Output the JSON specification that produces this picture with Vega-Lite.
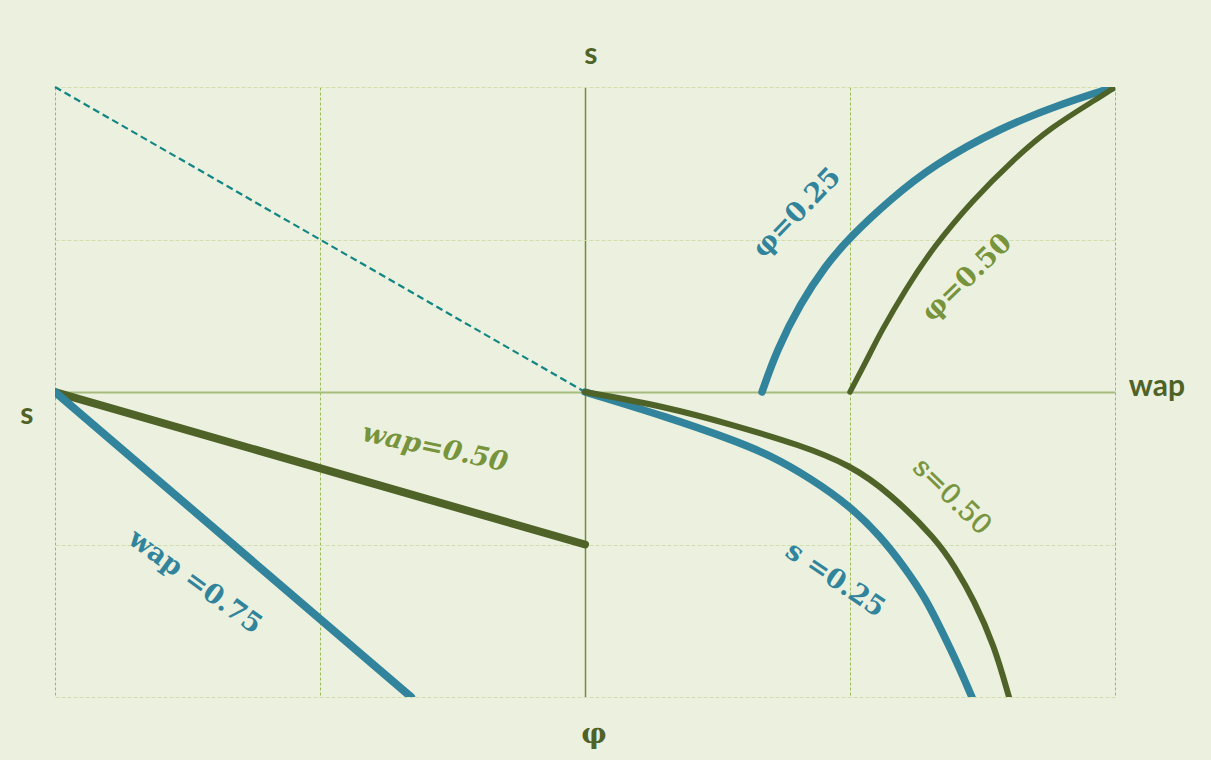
{
  "$schema": "https://vega.github.io/schema/vega-lite/v6.json",
  "width": 1060,
  "height": 610,
  "autosize": {"type": "none"},
  "padding": {"left": 55, "top": 87, "right": 96, "bottom": 63},
  "background": "#ebf1de",
  "config": {
    "view": {"stroke": null, "fill": "#ebf1de"}
  },
  "datasets": {
    "curves": [
      {"curve": "guide", "x": -1, "y": 1},
      {"curve": "guide", "x": 0, "y": 0},

      {"curve": "wap=0.50", "x": -1, "y": 0},
      {"curve": "wap=0.50", "x": 0, "y": -0.5},

      {"curve": "wap=0.75", "x": -1, "y": 0},
      {"curve": "wap=0.75", "x": -0.328, "y": -1},

      {"curve": "φ=0.25", "x": 0.334, "y": 0},
      {"curve": "φ=0.25", "x": 0.362, "y": 0.138},
      {"curve": "φ=0.25", "x": 0.406, "y": 0.289},
      {"curve": "φ=0.25", "x": 0.453, "y": 0.413},
      {"curve": "φ=0.25", "x": 0.5, "y": 0.508},
      {"curve": "φ=0.25", "x": 0.575, "y": 0.63},
      {"curve": "φ=0.25", "x": 0.657, "y": 0.744},
      {"curve": "φ=0.25", "x": 0.783, "y": 0.866},
      {"curve": "φ=0.25", "x": 0.909, "y": 0.951},
      {"curve": "φ=0.25", "x": 1, "y": 1},

      {"curve": "φ=0.50", "x": 0.5, "y": 0},
      {"curve": "φ=0.50", "x": 0.5415, "y": 0.138},
      {"curve": "φ=0.50", "x": 0.557, "y": 0.193},
      {"curve": "φ=0.50", "x": 0.604, "y": 0.334},
      {"curve": "φ=0.50", "x": 0.657, "y": 0.475},
      {"curve": "φ=0.50", "x": 0.732, "y": 0.63},
      {"curve": "φ=0.50", "x": 0.808, "y": 0.761},
      {"curve": "φ=0.50", "x": 0.877, "y": 0.866},
      {"curve": "φ=0.50", "x": 0.972, "y": 0.967},
      {"curve": "φ=0.50", "x": 1, "y": 1},

      {"curve": "s=0.25", "x": 0, "y": 0},
      {"curve": "s=0.25", "x": 0.155, "y": -0.082},
      {"curve": "s=0.25", "x": 0.279, "y": -0.157},
      {"curve": "s=0.25", "x": 0.349, "y": -0.207},
      {"curve": "s=0.25", "x": 0.425, "y": -0.282},
      {"curve": "s=0.25", "x": 0.5, "y": -0.374},
      {"curve": "s=0.25", "x": 0.557, "y": -0.472},
      {"curve": "s=0.25", "x": 0.604, "y": -0.577},
      {"curve": "s=0.25", "x": 0.642, "y": -0.675},
      {"curve": "s=0.25", "x": 0.675, "y": -0.79},
      {"curve": "s=0.25", "x": 0.704, "y": -0.895},
      {"curve": "s=0.25", "x": 0.73, "y": -1},

      {"curve": "s=0.50", "x": 0, "y": 0},
      {"curve": "s=0.50", "x": 0.155, "y": -0.049},
      {"curve": "s=0.50", "x": 0.279, "y": -0.108},
      {"curve": "s=0.50", "x": 0.406, "y": -0.174},
      {"curve": "s=0.50", "x": 0.5, "y": -0.239},
      {"curve": "s=0.50", "x": 0.575, "y": -0.331},
      {"curve": "s=0.50", "x": 0.664, "y": -0.485},
      {"curve": "s=0.50", "x": 0.698, "y": -0.574},
      {"curve": "s=0.50", "x": 0.734, "y": -0.682},
      {"curve": "s=0.50", "x": 0.772, "y": -0.83},
      {"curve": "s=0.50", "x": 0.8, "y": -1}
    ],
    "labels": [
      {"text": "wap=0.50", "x": -0.283, "y": -0.184},
      {"text": "wap =0.75", "x": -0.736, "y": -0.623},
      {"text": "φ=0.25", "x": 0.4, "y": 0.587},
      {"text": "φ=0.50", "x": 0.721, "y": 0.374},
      {"text": "s=0.50", "x": 0.692, "y": -0.344},
      {"text": "s =0.25", "x": 0.472, "y": -0.616},
      {"text": "s", "x": 0.011, "y": 1.105},
      {"text": "s ", "x": -1.053, "y": -0.075},
      {"text": "wap", "x": 1.079, "y": 0.016},
      {"text": "φ", "x": 0.017, "y": -1.125}
    ]
  },
  "encoding": {
    "x": {
      "field": "x",
      "type": "quantitative",
      "scale": {"domain": [-1, 1], "nice": false, "zero": false},
      "axis": {
        "values": [-1, -0.5, 0, 0.5, 1],
        "domain": false,
        "ticks": false,
        "labels": false,
        "title": null,
        "grid": true,
        "gridColor": {"condition": {"test": "datum.value === 0", "value": "#6f8c36"}, "value": "#9bbb59"},
        "gridDash": {"condition": {"test": "datum.value === 0", "value": []}, "value": [3, 2]},
        "gridWidth": {"condition": {"test": "datum.value === 0", "value": 1.5}, "value": 1},
        "gridOpacity": 1
      }
    },
    "y": {
      "field": "y",
      "type": "quantitative",
      "scale": {"domain": [-1, 1], "nice": false, "zero": false},
      "axis": {
        "values": [-1, -0.5, 0, 0.5, 1],
        "domain": false,
        "ticks": false,
        "labels": false,
        "title": null,
        "grid": true,
        "gridColor": {"condition": {"test": "datum.value === 0", "value": "#a6bc7c"}, "value": "#cfdeaa"},
        "gridDash": {"condition": {"test": "datum.value === 0", "value": []}, "value": [4, 2]},
        "gridWidth": {"condition": {"test": "datum.value === 0", "value": 2}, "value": 1},
        "gridOpacity": 1
      }
    }
  },
  "layer": [
    {
      "data": {"name": "curves"},
      "transform": [{"filter": "datum.curve === 'guide'"}],
      "mark": {"type": "line", "color": "#128585", "strokeWidth": 2.2, "strokeDash": [7, 4]}
    },
    {
      "data": {"name": "curves"},
      "transform": [{"filter": "datum.curve === 'wap=0.50'"}],
      "mark": {"type": "line", "color": "#4f6228", "strokeWidth": 8, "strokeCap": "round", "clip": true}
    },
    {
      "data": {"name": "curves"},
      "transform": [{"filter": "datum.curve === 'wap=0.75'"}],
      "mark": {"type": "line", "color": "#31849b", "strokeWidth": 8, "strokeCap": "round", "clip": true}
    },
    {
      "data": {"name": "curves"},
      "transform": [{"filter": "datum.curve === 'φ=0.25'"}],
      "mark": {"type": "line", "color": "#31849b", "strokeWidth": 7.5, "strokeCap": "round", "interpolate": "basis", "clip": true}
    },
    {
      "data": {"name": "curves"},
      "transform": [{"filter": "datum.curve === 'φ=0.50'"}],
      "mark": {"type": "line", "color": "#4f6228", "strokeWidth": 5.5, "strokeCap": "round", "interpolate": "basis", "clip": true}
    },
    {
      "data": {"name": "curves"},
      "transform": [{"filter": "datum.curve === 's=0.25'"}],
      "mark": {"type": "line", "color": "#31849b", "strokeWidth": 7.5, "strokeCap": "round", "interpolate": "basis", "clip": true}
    },
    {
      "data": {"name": "curves"},
      "transform": [{"filter": "datum.curve === 's=0.50'"}],
      "mark": {"type": "line", "color": "#4f6228", "strokeWidth": 6, "strokeCap": "round", "interpolate": "basis", "clip": true}
    },
    {
      "data": {"name": "labels"},
      "transform": [{"filter": "datum.text === 'wap=0.50'"}],
      "mark": {"type": "text", "angle": 12, "color": "#77933c", "font": "DejaVu Serif", "fontSize": 27, "fontWeight": "bold", "fontStyle": "italic", "align": "center", "baseline": "middle"},
      "encoding": {"text": {"field": "text"}}
    },
    {
      "data": {"name": "labels"},
      "transform": [{"filter": "datum.text === 'wap =0.75'"}],
      "mark": {"type": "text", "angle": 36, "color": "#31849b", "font": "DejaVu Serif", "fontSize": 27, "fontWeight": "bold", "align": "center", "baseline": "middle"},
      "encoding": {"text": {"field": "text"}}
    },
    {
      "data": {"name": "labels"},
      "transform": [{"filter": "datum.text === 'φ=0.25'"}],
      "mark": {"type": "text", "angle": -46, "color": "#31849b", "font": "DejaVu Serif", "fontSize": 27, "fontWeight": "bold", "align": "center", "baseline": "middle"},
      "encoding": {"text": {"field": "text"}}
    },
    {
      "data": {"name": "labels"},
      "transform": [{"filter": "datum.text === 'φ=0.50'"}],
      "mark": {"type": "text", "angle": -44, "color": "#77933c", "font": "DejaVu Serif", "fontSize": 27, "fontWeight": "bold", "align": "center", "baseline": "middle"},
      "encoding": {"text": {"field": "text"}}
    },
    {
      "data": {"name": "labels"},
      "transform": [{"filter": "datum.text === 's=0.50'"}],
      "mark": {"type": "text", "angle": 44, "color": "#77933c", "font": "DejaVu Serif", "fontSize": 27, "fontWeight": "normal", "stroke": "#77933c", "strokeWidth": 0.6, "align": "center", "baseline": "middle"},
      "encoding": {"text": {"field": "text"}}
    },
    {
      "data": {"name": "labels"},
      "transform": [{"filter": "datum.text === 's =0.25'"}],
      "mark": {"type": "text", "angle": 34, "color": "#31849b", "font": "DejaVu Serif", "fontSize": 27, "fontWeight": "bold", "align": "center", "baseline": "middle"},
      "encoding": {"text": {"field": "text"}}
    },
    {
      "data": {"name": "labels"},
      "transform": [{"filter": "datum.text === 's' || datum.text === 's ' || datum.text === 'wap'"}],
      "mark": {"type": "text", "color": "#4f6228", "font": "Lato", "fontSize": 30, "fontWeight": "bold", "align": "center", "baseline": "middle"},
      "encoding": {"text": {"field": "text"}}
    },
    {
      "data": {"name": "labels"},
      "transform": [{"filter": "datum.text === 'φ'"}],
      "mark": {"type": "text", "color": "#4f6228", "font": "DejaVu Serif", "fontSize": 28, "fontWeight": "bold", "align": "center", "baseline": "middle"},
      "encoding": {"text": {"field": "text"}}
    }
  ]
}
